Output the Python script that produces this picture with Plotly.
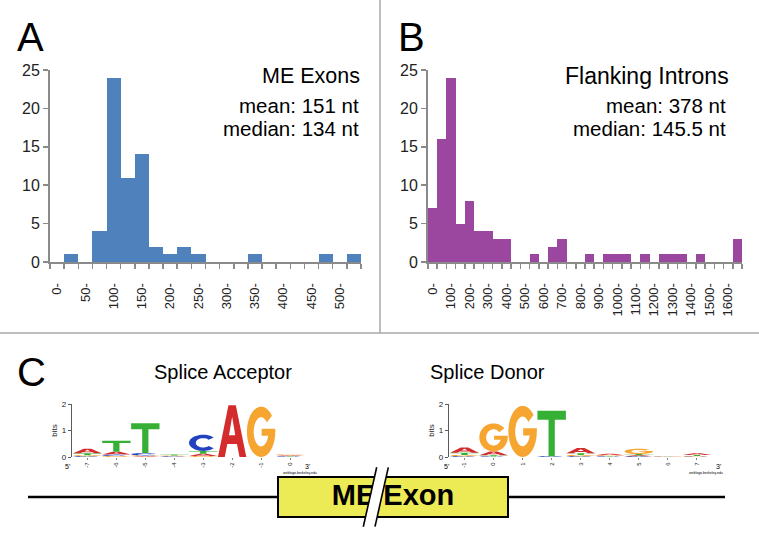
import numpy as np
import plotly.graph_objects as go

W, H = 759, 544

# ---------------- data ----------------
exon_bins = ["0-", "25-", "50-", "75-", "100-", "125-", "150-", "175-", "200-", "225-", "250-",
             "275-", "300-", "325-", "350-", "375-", "400-", "425-", "450-", "475-", "500-", "525-"]
exon_counts = [0, 1, 0, 4, 24, 11, 14, 2, 1, 2, 1, 0, 0, 0, 1, 0, 0, 0, 0, 1, 0, 1]

intron_bins = ["0-", "50-", "100-", "150-", "200-", "250-", "300-", "350-", "400-", "450-", "500-",
               "550-", "600-", "650-", "700-", "750-", "800-", "850-", "900-", "950-", "1000-",
               "1050-", "1100-", "1150-", "1200-", "1250-", "1300-", "1350-", "1400-", "1450-",
               "1500-", "1550-", "1600-", "1650-"]
intron_counts = [7, 16, 24, 5, 8, 4, 4, 3, 3, 0, 0, 1, 0, 2, 3, 0, 0, 1, 0, 1, 1, 1, 0, 1, 0,
                 1, 1, 1, 0, 1, 0, 0, 0, 3]

exon_stats = ["ME Exons", "mean: 151 nt", "median: 134 nt"]
intron_stats = ["Flanking Introns", "mean: 378 nt", "median: 145.5 nt"]

# sequence logos (bits per base)
acc_positions = ["-7", "-6", "-5", "-4", "-3", "-2", "-1", "0"]
acc_A = [0.17, 0.11, 0.03, 0.02, 0.08, 1.95, 0.00, 0.03]
acc_C = [0.03, 0.05, 0.09, 0.02, 0.61, 0.00, 0.00, 0.02]
acc_G = [0.04, 0.04, 0.03, 0.02, 0.04, 0.00, 1.90, 0.03]
acc_T = [0.07, 0.41, 1.12, 0.03, 0.11, 0.00, 0.00, 0.02]

don_positions = ["-1", "0", "1", "2", "3", "4", "5", "6", "7"]
don_A = [0.20, 0.14, 0.00, 0.00, 0.20, 0.05, 0.04, 0.01, 0.06]
don_C = [0.03, 0.02, 0.00, 0.03, 0.03, 0.02, 0.03, 0.01, 0.02]
don_G = [0.05, 1.06, 1.93, 0.00, 0.05, 0.03, 0.20, 0.01, 0.02]
don_T = [0.08, 0.05, 0.00, 1.72, 0.06, 0.02, 0.04, 0.01, 0.04]

# ---------------- style ----------------
FONT = "Liberation Sans, Arial, sans-serif"
AXC = "#8a8a8a"
BLUE = "#4f81bd"
PURPLE = "#9b479f"
BASE_COL = {"A": "#d42c2c", "C": "#2342bf", "G": "#f6a530", "T": "#35b035"}


def px(x):
    return x / W


def py(y):
    return 1 - y / H


fig = go.Figure()

# histograms
fig.add_trace(go.Bar(x=list(range(len(exon_counts))), y=exon_counts, width=1.0,
                     marker=dict(color=BLUE, line=dict(width=0)), xaxis="x", yaxis="y",
                     hoverinfo="skip"))
fig.add_trace(go.Bar(x=list(range(len(intron_counts))), y=intron_counts, width=1.0,
                     marker=dict(color=PURPLE, line=dict(width=0)), xaxis="x2", yaxis="y2",
                     hoverinfo="skip"))


def hist_xaxis(domain, labels, anchor):
    n = len(labels)
    return dict(domain=domain, range=[-0.5, n - 0.5], anchor=anchor, automargin=False,
                tickvals=list(range(0, n, 2)), ticktext=labels[::2], ticks="",
                tickangle=-90, tickfont=dict(family=FONT, size=13, color="#222"),
                ticklabelstandoff=14,
                minor=dict(tickvals=[i - 0.5 for i in range(n + 1)], ticks="outside",
                           ticklen=5, tickwidth=1.5, tickcolor=AXC),
                showline=True, linecolor=AXC, linewidth=2, showgrid=False, zeroline=False,
                fixedrange=True)


def hist_yaxis(anchor):
    return dict(domain=[py(262), py(70)], range=[0, 25], anchor=anchor, automargin=False,
                tickvals=[0, 5, 10, 15, 20, 25], ticks="outside", ticklen=5, tickwidth=1.5,
                tickcolor=AXC, tickfont=dict(family=FONT, size=16, color="#222"),
                showline=True, linecolor=AXC, linewidth=2, showgrid=False, zeroline=False,
                fixedrange=True)


# sequence logo glyphs (unit box outlines)
def arc(cx, cy, rx, ry, a0, a1, n=36):
    t = np.radians(np.linspace(a0, a1, n))
    return list(zip(cx + rx * np.cos(t), cy + ry * np.sin(t)))


GLYPHS = {
    "A": [[(0, 0), (0.37, 1), (0.63, 1), (1, 0), (0.76, 0), (0.67, 0.25), (0.33, 0.25), (0.24, 0)],
          [(0.39, 0.42), (0.61, 0.42), (0.5, 0.78)]],
    "T": [[(0, 1), (1, 1), (1, 0.8), (0.61, 0.8), (0.61, 0), (0.39, 0), (0.39, 0.8), (0, 0.8)]],
    "C": [arc(0.5, 0.5, 0.5, 0.5, 42, 318) + arc(0.5, 0.5, 0.26, 0.29, 318, 42)],
    "G": [arc(0.5, 0.5, 0.5, 0.5, 40, 360) + [(1, 0.56), (0.52, 0.56), (0.52, 0.42), (0.76, 0.42)]
          + arc(0.5, 0.5, 0.26, 0.29, 345, 40)],
}


def glyph_path(letter, x0, x1, y0, y1):
    parts = []
    for poly in GLYPHS[letter]:
        pts = [(x0 + u * (x1 - x0), y0 + v * (y1 - y0)) for u, v in poly]
        s = "M{:.4f},{:.4f} ".format(*pts[0]) + " ".join("L{:.4f},{:.4f}".format(a, b) for a, b in pts[1:]) + " Z"
        parts.append(s)
    return " ".join(parts)


shapes = []


def add_logo(xref, yref, cols):
    for i, col in enumerate(cols):
        y0 = 0.0
        for base, h in sorted(col.items(), key=lambda kv: kv[1]):
            if h <= 0:
                continue
            shapes.append(dict(type="path", xref=xref, yref=yref,
                               path=glyph_path(base, i - 0.49, i + 0.49, y0, y0 + h),
                               fillcolor=BASE_COL[base], line=dict(width=0), layer="above"))
            y0 += h


acc_cols = [dict(A=a, C=c, G=g, T=t) for a, c, g, t in zip(acc_A, acc_C, acc_G, acc_T)]
don_cols = [dict(A=a, C=c, G=g, T=t) for a, c, g, t in zip(don_A, don_C, don_G, don_T)]
add_logo("x3", "y3", acc_cols)
add_logo("x4", "y4", don_cols)


def logo_xaxis(domain, labels, anchor):
    return dict(domain=domain, range=[-0.55, len(labels) - 0.5], anchor=anchor, automargin=False,
                tickvals=list(range(len(labels))), ticktext=labels, tickangle=-90,
                ticks="outside", ticklen=2, tickcolor="#333", tickwidth=0.6,
                tickfont=dict(family=FONT, size=6, color="#222"),
                showline=False, showgrid=False, zeroline=False, fixedrange=True)


def logo_yaxis(anchor):
    return dict(domain=[py(457), py(404)], range=[0, 2], anchor=anchor, automargin=False,
                tickvals=[0, 1, 2], ticks="outside", ticklen=3, tickwidth=0.8, tickcolor="#333",
                tickfont=dict(family=FONT, size=8, color="#222"),
                title=dict(text="bits", font=dict(family=FONT, size=8, color="#222"), standoff=2),
                showline=True, linecolor="#333", linewidth=0.8, showgrid=False, zeroline=False,
                fixedrange=True)


# "ME Exon" label as a trace so that the break marks can overlay it
fig.add_trace(go.Scatter(x=[393], y=[498], mode="text", text=["<b>ME Exon</b>"],
                         textfont=dict(family=FONT, size=29, color="black"),
                         xaxis="x5", yaxis="y5", hoverinfo="skip"))

# panel frame lines
shapes += [
    dict(type="line", xref="x5", yref="y5", x0=380, x1=380, y0=0, y1=333,
         line=dict(color="#a8a8a8", width=1.5)),
    dict(type="line", xref="x5", yref="y5", x0=0, x1=W, y0=333, y1=333,
         line=dict(color="#a8a8a8", width=1.5)),
]
# gene diagram
shapes += [
    dict(type="line", xref="x5", yref="y5", x0=28, x1=725, y0=497, y1=497,
         line=dict(color="black", width=2.5), layer="below"),
    dict(type="rect", xref="x5", yref="y5", x0=278, x1=508, y0=477, y1=517,
         fillcolor="#ecea55", line=dict(color="black", width=2), layer="below"),
    dict(type="path", xref="x5", yref="y5",
         path="M363.3,526.7 L376.7,467.3 L388.3,467.3 L375,526.7 Z",
         fillcolor="white", line=dict(width=0), layer="above"),
    dict(type="line", xref="x5", yref="y5", x0=363.3, y0=526.7, x1=376.7, y1=467.3,
         line=dict(color="black", width=1.6), layer="above"),
    dict(type="line", xref="x5", yref="y5", x0=375, y0=526.7, x1=388.3, y1=467.3,
         line=dict(color="black", width=1.6), layer="above"),
]

annotations = []


def ann(x, y, text, size, xanchor="center", yanchor="middle", family=FONT):
    annotations.append(dict(x=x, y=y, xref="x5", yref="y5", text=text, showarrow=False,
                            xanchor=xanchor, yanchor=yanchor,
                            font=dict(family=family, size=size, color="black")))


ann(15, 37, "A", 40, xanchor="left")
ann(396, 37, "B", 40, xanchor="left")
ann(15, 372, "C", 40, xanchor="left")
ann(223, 372, "Splice Acceptor", 20)
ann(487, 372, "Splice Donor", 20)

ann(362, 76, exon_stats[0], 21.5, xanchor="right")
ann(361, 105, exon_stats[1], 20.5, xanchor="right")
ann(361, 128, exon_stats[2], 20.5, xanchor="right")
ann(731, 76, intron_stats[0], 23, xanchor="right")
ann(728, 105, intron_stats[1], 20.5, xanchor="right")
ann(728, 128, intron_stats[2], 20.5, xanchor="right")

ann(67, 466, "5'", 7)
ann(307, 466, "3'", 7)
ann(300, 473, "weblogo.berkeley.edu", 3.5)
ann(446, 466, "5'", 7)
ann(718, 466, "3'", 7)
ann(706, 473, "weblogo.berkeley.edu", 3.5)

fig.update_layout(
    width=W, height=H, margin=dict(l=0, r=0, t=0, b=0, autoexpand=False),
    paper_bgcolor="white", plot_bgcolor="rgba(0,0,0,0)",
    showlegend=False, bargap=0,
    xaxis=hist_xaxis([px(50), px(361)], exon_bins, "y"),
    yaxis=hist_yaxis("x"),
    xaxis2=hist_xaxis([px(428), px(742)], intron_bins, "y2"),
    yaxis2=hist_yaxis("x2"),
    xaxis3=logo_xaxis([px(71.5), px(304.5)], acc_positions, "y3"),
    yaxis3=logo_yaxis("x3"),
    xaxis4=logo_xaxis([px(448.5), px(711.5)], don_positions, "y4"),
    yaxis4=logo_yaxis("x4"),
    xaxis5=dict(domain=[0, 1], range=[0, W], visible=False, fixedrange=True, anchor="y5",
                automargin=False),
    yaxis5=dict(domain=[0, 1], range=[H, 0], visible=False, fixedrange=True, anchor="x5",
                automargin=False),
    shapes=shapes, annotations=annotations,
)

fig.write_html("out.html", config={"displayModeBar": False, "staticPlot": True},
               post_script="document.body.style.margin='0';document.body.style.overflow='hidden';")
